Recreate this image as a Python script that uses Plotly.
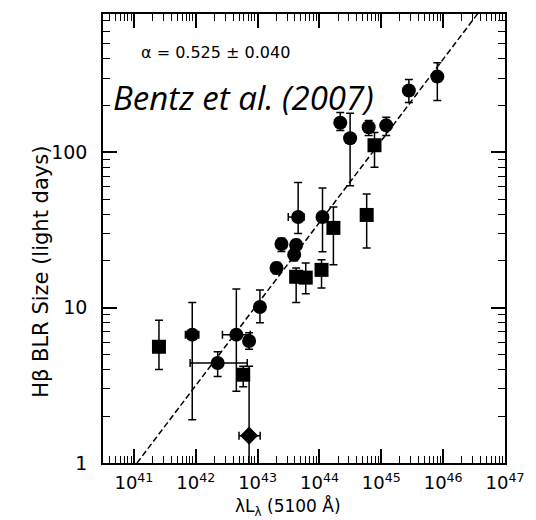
import plotly.graph_objects as go

# ---- data ----
lum = [2.54e41, 8.77e41, 2.26e42, 4.53e42, 7.28e42, 5.85e42, 7.28e42, 1.09e43,
       4.52e43, 2.43e43, 2.02e43, 4.20e43, 3.90e43, 4.20e43, 6.00e43, 1.08e44,
       1.12e44, 1.68e44, 5.80e44, 2.17e44, 3.13e44, 6.25e44, 7.76e44, 1.20e45,
       2.79e45, 8.05e45]
lum_lo = [2.40e41, 6.80e41, 8.10e41, 2.70e42, 6.30e42, 5.60e42, 5.00e42, 1.05e43,
          3.13e43, 2.43e43, 2.02e43, 4.20e43, 3.90e43, 4.20e43, 6.00e43, 1.08e44,
          1.05e44, 1.68e44, 5.80e44, 2.17e44, 3.13e44, 6.25e44, 7.76e44, 1.20e45,
          2.79e45, 8.05e45]
lum_hi = [2.70e41, 1.12e42, 6.80e42, 7.60e42, 8.40e42, 6.10e42, 1.10e43, 1.13e43,
          5.60e43, 2.43e43, 2.02e43, 4.20e43, 3.90e43, 4.20e43, 6.00e43, 1.08e44,
          1.20e44, 1.68e44, 5.80e44, 2.17e44, 3.13e44, 6.25e44, 7.76e44, 1.20e45,
          2.79e45, 8.05e45]
r_blr = [5.6, 6.7, 4.4, 6.7, 6.1, 3.7, 1.5, 10.1,
         38.3, 25.7, 18.0, 25.3, 21.9, 15.8, 15.6, 17.5,
         38.3, 32.6, 39.5, 155, 123, 145, 111, 149,
         250, 307]
r_hi = [8.3, 10.8, 5.2, 13.2, 6.9, 4.2, 4.2, 13.0,
        64, 28, 19.5, 27.5, 24, 18, 19.4, 20.3,
        58.8, 44.4, 53.8, 180, 178, 160, 134, 168,
        294, 377]
r_lo = [4.0, 1.9, 3.6, 2.9, 5.4, 3.1, 0.5, 8.0,
        30, 23, 16.5, 23, 20, 10.8, 12.3, 13.4,
        22.9, 18.9, 24.2, 138, 61, 128, 80, 128,
        209, 215]
symbols = ["square", "circle", "circle", "circle", "circle", "square", "diamond", "circle",
           "circle", "circle", "circle", "circle", "circle", "square", "square", "square",
           "circle", "square", "square", "circle", "circle", "circle", "square", "circle",
           "circle", "circle"]

fit_lum = [1.12e41, 1.0e47]
fit_r = [1.0, 1330.0]

x_ticks = [1e41, 1e42, 1e43, 1e44, 1e45, 1e46, 1e47]
x_ticktext = ["10<sup>41</sup>", "10<sup>42</sup>", "10<sup>43</sup>", "10<sup>44</sup>",
              "10<sup>45</sup>", "10<sup>46</sup>", "10<sup>47</sup>"]
y_ticks = [1, 10, 100]
y_ticktext = ["1", "10", "100"]

x_minor = [k * 10.0 ** e for e in range(40, 47) for k in range(2, 10)]
y_minor = [k * 10.0 ** e for e in range(0, 3) for k in range(2, 10)]

err_y_plus = [h - v for h, v in zip(r_hi, r_blr)]
err_y_minus = [v - l for l, v in zip(r_lo, r_blr)]
err_x_plus = [h - v for h, v in zip(lum_hi, lum)]
err_x_minus = [v - l for l, v in zip(lum_lo, lum)]

FONT = "DejaVu Sans"
X_RANGE = [40.5, 47.0]
Y_RANGE = [0, 2.89]

fig = go.Figure()
fig.add_trace(go.Scatter(
    x=fit_lum, y=fit_r, mode="lines",
    line=dict(color="black", width=1.5, dash="6px,3px"),
    hoverinfo="skip", showlegend=False))
fig.add_trace(go.Scatter(
    x=lum, y=r_blr, mode="markers",
    marker=dict(color="black", size=14, symbol=symbols, line=dict(width=0)),
    error_y=dict(type="data", symmetric=False, array=err_y_plus, arrayminus=err_y_minus,
                 color="black", thickness=1.5, width=4),
    error_x=dict(type="data", symmetric=False, array=err_x_plus, arrayminus=err_x_minus,
                 color="black", thickness=1.5, width=4),
    showlegend=False))
# invisible trace to carry the mirrored (top/right) tick axes
fig.add_trace(go.Scatter(
    x=fit_lum, y=fit_r, xaxis="x2", yaxis="y2", mode="lines",
    line=dict(color="rgba(0,0,0,0)", width=0), hoverinfo="skip", showlegend=False))

axis_common = dict(
    ticks="inside", tickcolor="black", tickwidth=1.5, showgrid=False, zeroline=False,
    ticklen=14,
)
minor_x = dict(tickmode="array", tickvals=x_minor, ticks="inside", ticklen=7,
               tickcolor="black", tickwidth=1.2, showgrid=False)
minor_y = dict(tickmode="array", tickvals=y_minor, ticks="inside", ticklen=7,
               tickcolor="black", tickwidth=1.2, showgrid=False)

fig.update_layout(
    xaxis=dict(type="log", range=X_RANGE, tickmode="array", tickvals=x_ticks,
               ticktext=x_ticktext, ticklabelstandoff=3, minor=minor_x,
               showline=True, linecolor="black", linewidth=1.5, mirror=True,
               tickfont=dict(family=FONT, size=18, color="black"), **axis_common),
    yaxis=dict(type="log", range=Y_RANGE, tickmode="array", tickvals=y_ticks,
               ticktext=y_ticktext, ticklabelstandoff=10, minor=minor_y,
               showline=True, linecolor="black", linewidth=1.5, mirror=True,
               tickfont=dict(family=FONT, size=19, color="black"), **axis_common),
    xaxis2=dict(type="log", range=X_RANGE, overlaying="x", side="top", anchor="y2",
                tickmode="array", tickvals=x_ticks, showticklabels=False, minor=minor_x,
                showline=False, **axis_common),
    yaxis2=dict(type="log", range=Y_RANGE, overlaying="y", side="right", anchor="x2",
                tickmode="array", tickvals=y_ticks, showticklabels=False, minor=minor_y,
                showline=False, **axis_common),
)

fig.add_annotation(xref="paper", yref="paper", x=0.461, y=-0.097, xanchor="center",
                   yanchor="middle", text="λL<sub>λ</sub> (5100 Å)", showarrow=False,
                   font=dict(family=FONT, size=17, color="black"))
fig.add_annotation(xref="paper", yref="paper", x=-0.155, y=0.425, xanchor="center",
                   yanchor="middle", text="Hβ BLR Size (light days)", textangle=-90,
                   showarrow=False, font=dict(family=FONT, size=21, color="black"))
fig.add_annotation(xref="paper", yref="paper", x=0.09, y=0.915, xanchor="left", yanchor="middle",
                   text="α = 0.525 ± 0.040", showarrow=False,
                   font=dict(family=FONT, size=16, color="black"))
fig.add_annotation(xref="paper", yref="paper", x=0.02, y=0.815, xanchor="left", yanchor="middle",
                   text="<i>Bentz et al. (2007)</i>", showarrow=False,
                   font=dict(family="Open Sans", size=33, color="black"))

fig.update_layout(
    width=536, height=520,
    margin=dict(l=103, r=23, t=12, b=57),
    plot_bgcolor="white", paper_bgcolor="white",
    font=dict(family=FONT, color="black"),
)

fig.write_html("out.html")
